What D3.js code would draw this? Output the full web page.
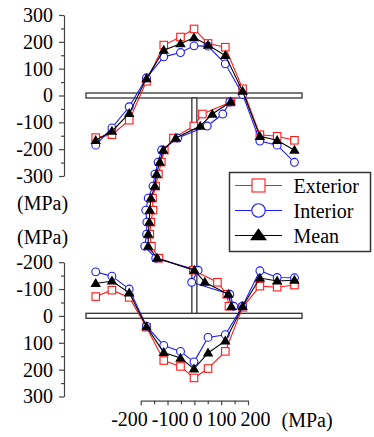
<!DOCTYPE html>
<html><head><meta charset="utf-8">
<script src="https://cdn.jsdelivr.net/npm/d3@7"></script>
</head><body style="margin:0;background:#fff">
<svg id="c" width="374" height="437" style="display:block"></svg>
<script>
// ---- data (MPa) ----
const flangePos = [-91,-76,-60,-44,-28,-12.5,0,13,29,45,61,77,93];
const topExterior = [-157,-146,-92,53,188,218,248,194,180,25,-146,-152,-167];
const topInterior = [-185,-121,-42,66,144,160,185,184,118,4,-170,-185,-249];
const topMean     = [-167,-133,-67,63,169,193,216,188,149,16,-152,-167,-204];
const botExterior = [-72,-96,-69,42,166,188,231,196,132,-32,-111,-107,-115];
const botInterior = [-164,-148,-100,38,110,132,171,80,70,-37,-168,-143,-142];
const botMean     = [-121,-130,-86,40,136,157,197,138,93,-35,-141,-130,-133];
const webPos      = [13,37,61,85,109,133,157,181,205,229,253,277,301,325,349,373,397,421];
const webExterior = [136,30,-2,-78,-112,-123,-134,-144,-156,-154,-162,-166,-160,-132,-4,86,121,129];
const webInterior = [132,106,48,-62,-122,-135,-147,-154,-172,-181,-177,-178,-185,-144,14,-10,132,147];
const webMean     = [135,67,22,-69,-116,-129,-141,-147,-162,-166,-168,-172,-172,-139,0,39,127,138];
const topTicks = [300,200,100,0,-100,-200,-300];
const botTicks = [-200,-100,0,100,200,300];
const webTicks = [-200,-100,0,100,200];
const seriesNames = ["Exterior","Interior","Mean"];
const unitLabel = "(MPa)";

// ---- scales ----
const yTop = d3.scaleLinear().domain([-300,300]).range([176,15]);
const yBot = d3.scaleLinear().domain([-200,300]).range([262.2,396.5]);
const xFl  = d3.scaleLinear().domain([-100,100]).range([86,302]);
const xWeb = d3.scaleLinear().domain([-200,200]).range([140.7,248]);
const yWeb = d3.scaleLinear().domain([0,440]).range([95.5,315.8]);

const FONT = "Liberation Serif";
const svg = d3.select("#c").attr("font-family",FONT).attr("font-size",20);
const AX = "#444";
const colors = {Exterior:"#ff1a1a", Interior:"#1a1aff", Mean:"#000"};

// ---- axes ----
function leftAxis(scale, ticks, x){
  const minor = [];
  for(let i=0;i<ticks.length-1;i++) minor.push((ticks[i]+ticks[i+1])/2);
  svg.append("g").attr("transform",`translate(${x},0)`)
    .call(d3.axisLeft(scale).tickValues(minor).tickSize(3).tickSizeOuter(0).tickFormat(""))
    .call(g=>g.select(".domain").remove());
  const g = svg.append("g").attr("transform",`translate(${x},0)`)
    .call(d3.axisLeft(scale).tickValues(ticks).tickSize(5).tickSizeOuter(0).tickPadding(6).tickFormat(d=>String(d)));
  g.attr("font-size",20).attr("font-family",FONT);
  g.selectAll("text").attr("font-family",FONT).attr("fill","#000");
  svg.selectAll("g line, g path.domain").attr("stroke",AX).attr("stroke-width",1.2);
}
leftAxis(yTop, topTicks, 64);
leftAxis(yBot, botTicks, 64);

// bottom (web) axis
const wMinor = [];
for(let i=0;i<webTicks.length-1;i++) wMinor.push((webTicks[i]+webTicks[i+1])/2);
svg.append("g").attr("transform","translate(0,400.7)")
  .call(d3.axisBottom(xWeb).tickValues(wMinor).tickSize(3.5).tickFormat(""))
  .call(g=>g.select(".domain").remove())
  .selectAll("line").attr("stroke",AX).attr("stroke-width",1.2);
const gx = svg.append("g").attr("transform","translate(0,400.7)")
  .call(d3.axisBottom(xWeb).tickValues(webTicks).tickSize(4.5).tickSizeOuter(0).tickPadding(7).tickFormat(d=>String(d)));
gx.attr("font-size",20).attr("font-family",FONT);
gx.selectAll("text").attr("font-family",FONT).attr("fill","#000");
gx.selectAll("line,path").attr("stroke",AX).attr("stroke-width",1.2);

// spread overlapping tick labels (least-squares packing)
(function(){
  const gap = 4;
  const items = gx.selectAll(".tick text").nodes().map((n,i)=>({n, ideal:xWeb(webTicks[i]), w:n.getComputedTextLength()}));
  function layout(c){ let off=0,sum=0; c.offs=[]; c.items.forEach(it=>{c.offs.push(off); sum += it.ideal-(off+it.w/2); off += it.w+gap;}); c.width=off-gap; c.start=sum/c.items.length; }
  const cl=[];
  items.forEach(it=>{
    const c={items:[it]}; layout(c); cl.push(c);
    while(cl.length>1){
      const b=cl[cl.length-1], a=cl[cl.length-2];
      if(a.start+a.width+gap > b.start){ cl.pop(); cl.pop(); const m={items:a.items.concat(b.items)}; layout(m); cl.push(m); }
      else break;
    }
  });
  cl.forEach(c=>c.items.forEach((it,i)=>{
    d3.select(it.n).attr("x", c.start + c.offs[i] + it.w/2 - it.ideal);
  }));
})();

// unit labels
function label(x,y,t){ return svg.append("text").attr("x",x).attr("y",y).attr("font-family",FONT).attr("font-size",20).text(t); }
label(17,209.5,unitLabel);
label(17,244,unitLabel);
label(281.5,427,unitLabel);

// ---- section outline ----
const SEC = "#333";
const ft = 5, ww = 5;
[0,440].forEach(p=>{
  svg.append("rect").attr("x",xFl(-100)).attr("y",yWeb(p)-ft/2).attr("width",xFl(100)-xFl(-100)).attr("height",ft)
    .attr("fill","#fff").attr("stroke",SEC).attr("stroke-width",1.3);
});
svg.append("rect").attr("x",xWeb(0)-ww/2).attr("y",yWeb(0)+ft/2).attr("width",ww).attr("height",yWeb(440)-yWeb(0)-ft)
  .attr("fill","#fff").attr("stroke",SEC).attr("stroke-width",1.3);

// ---- markers ----
function marker(g, name, big){
  const c = colors[name];
  if(name==="Exterior"){
    const s = big?13:7.5;
    return g.append("rect").attr("x",-s/2).attr("y",-s/2).attr("width",s).attr("height",s)
      .attr("fill","#fff").attr("stroke",c).attr("stroke-width",1.1);
  } else if(name==="Interior"){
    return g.append("circle").attr("r",big?6.7:3.9).attr("fill","#fff").attr("stroke",c).attr("stroke-width",1.1);
  } else {
    const w = big?17:10.5, h = big?12:9;
    return g.append("path").attr("d",`M0,${-h*0.6}L${w/2},${h*0.4}L${-w/2},${h*0.4}Z`).attr("fill","#000");
  }
}

function drawSeries(name, pts){
  const c = colors[name];
  svg.append("path").datum(pts).attr("fill","none").attr("stroke",c).attr("stroke-width",1.1)
    .attr("d", d3.line().x(d=>d[0]).y(d=>d[1]));
  pts.forEach(p=>{
    const g = svg.append("g").attr("transform",`translate(${p[0]},${p[1]})`);
    marker(g,name,false);
  });
}

const topData = {Exterior:topExterior, Interior:topInterior, Mean:topMean};
const botData = {Exterior:botExterior, Interior:botInterior, Mean:botMean};
const webData = {Exterior:webExterior, Interior:webInterior, Mean:webMean};

seriesNames.forEach(name=>{
  drawSeries(name, flangePos.map((p,i)=>[xFl(p), yTop(topData[name][i])]));
  drawSeries(name, flangePos.map((p,i)=>[xFl(p), yBot(botData[name][i])]));
  drawSeries(name, webPos.map((p,i)=>[xWeb(webData[name][i]), yWeb(p)]));
});

// ---- legend ----
const lg = svg.append("g");
lg.append("rect").attr("x",229.5).attr("y",172.5).attr("width",141).attr("height",79)
  .attr("fill","#fff").attr("stroke","#333").attr("stroke-width",1.5);
seriesNames.forEach((name,i)=>{
  const y = 185.5 + i*25;
  lg.append("line").attr("x1",235).attr("x2",282).attr("y1",y).attr("y2",y)
    .attr("stroke",colors[name]).attr("stroke-width",1.1);
  marker(lg.append("g").attr("transform",`translate(258.5,${y})`), name, true);
  lg.append("text").attr("x",293.5).attr("y",y+7).attr("font-family",FONT).attr("font-size",20).text(name);
});
</script>
</body></html>
